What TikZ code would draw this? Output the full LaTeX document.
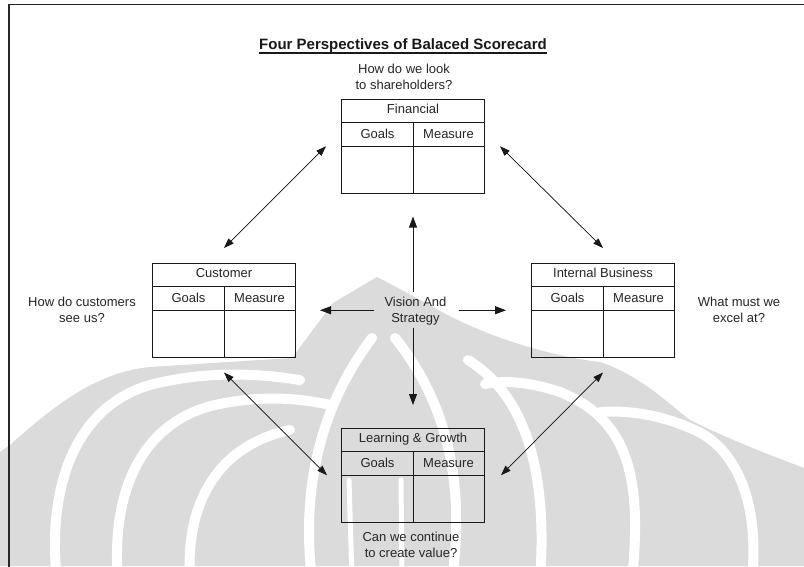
\documentclass[tikz,border=0pt]{standalone}
\usepackage{fontspec}
\setmainfont{Liberation Sans}
\usetikzlibrary{arrows.meta,calc}

\tikzset{
  pbox/.style={draw=black!90, line width=1pt, minimum width=143pt, minimum height=93.5pt, inner sep=0pt},
  rule/.style={draw=black!90, line width=1pt},
  ptext/.style={font=\fontsize{13}{16}\selectfont, inner sep=0pt, text=black!85, anchor=base},
  note/.style={font=\fontsize{13}{16}\selectfont, align=center, inner sep=0pt, text=black!85},
  heading/.style={font=\fontsize{15}{18}\selectfont\bfseries, inner sep=0pt, text=black!90},
  arr/.style={-{Triangle[length=11pt,width=8pt]}, line width=0.8pt, draw=black!90, fill=black!90},
  darr/.style={{Triangle[length=10pt,width=7pt]}-{Triangle[length=10pt,width=7pt]}, line width=0.7pt, draw=black!90, fill=black!90},
  wm/.style={fill=black!14},
  wmgap/.style={draw=white, line width=10pt, line cap=round},
}

% one perspective table: name, top-left corner, heading
\newcommand\persp[3]{%
  \node[pbox, anchor=north west] (#1) at (#2) {};
  \draw[rule] ($(#1.north west)+(0,23.5)$) -- ($(#1.north east)+(0,23.5)$);
  \draw[rule] ($(#1.north west)+(0,47)$) -- ($(#1.north east)+(0,47)$);
  \draw[rule] ($(#1.north)+(0,23.5)$) -- (#1.south);
  \node[ptext] (#1-head) at ($(#1.north)+(0,14.2)$) {#3};
  \node[ptext] (#1-goals) at ($(#1.north)+(-35.5,39.5)$) {Goals};
  \node[ptext] (#1-measure) at ($(#1.north)+(35.5,39.5)$) {Measure};
}

\begin{document}
\begin{tikzpicture}[x=1pt,y=-1pt]
\clip (0,0) rectangle (804,566);
\fill[white] (0,0) rectangle (804,566);

% faint emblem in the background
\fill[wm] (0,452) -- (10,445) .. controls (60,400) and (100,372) .. (150,367)
  -- (292,358) -- (333,303) -- (377,277) -- (430,305)
  .. controls (470,330) and (540,355) .. (600,362)
  .. controls (640,375) and (670,405) .. (690,420)
  .. controls (730,440) and (770,455) .. (804,468) -- (804,566) -- (0,566) -- cycle;
% left arcs
\draw[wmgap] (57,580) .. controls (46,480) and (80,405) .. (150,385) .. controls (200,372) and (250,372) .. (300,380);
\draw[wmgap] (118,580) .. controls (110,480) and (150,420) .. (215,405) .. controls (260,395) and (300,398) .. (330,405);
\draw[wmgap] (190,580) .. controls (185,500) and (220,445) .. (290,430);
% central flame
\draw[wmgap] (312,580) .. controls (300,480) and (325,400) .. (372,338);
\draw[wmgap] (452,580) .. controls (466,480) and (445,400) .. (395,338);
\draw[wmgap, line width=5pt] (352,580) -- (349,480);
\draw[wmgap, line width=5pt] (402,580) -- (401,480);
% right arcs
\draw[wmgap] (540,580) .. controls (548,470) and (525,395) .. (468,360);
\draw[wmgap] (632,580) .. controls (642,480) and (630,420) .. (560,392) .. controls (530,382) and (505,380) .. (485,384);
\draw[wmgap] (752,580) .. controls (760,500) and (735,445) .. (690,428) .. controls (660,415) and (630,410) .. (600,412);

% page frame
\draw[line width=1.4pt, black!85] (9,600) -- (9,4.5) -- (820,4.5);

% title
\node[heading, anchor=base] (title) at (403,49) {Four Perspectives of Balaced Scorecard};
\draw[line width=1.1pt, black!90] ([yshift=-4pt]title.base west) -- ([yshift=-4pt]title.base east);

% the four perspectives
\persp{fin}{341,99}{Financial}
\persp{cust}{152,263}{Customer}
\persp{ib}{531,263}{Internal Business}
\persp{lg}{341,428}{Learning \& Growth}

% guiding questions
\node[note] (q-fin) at (404,77) {How do we look\\to shareholders?};
\node[note] (q-cust) at (82,309.8) {How do customers\\see us?};
\node[note] (q-ib) at (739,309.8) {What must we\\excel at?};
\node[note] (q-lg) at (411,544.8) {Can we continue\\to create value?};

% centre
\node[note] (vs) at (415.5,311) {Vision And\\Strategy};

\draw[arr] ([yshift=5pt]vs.north -| fin.south) -- ([yshift=-23pt]fin.south);
\draw[arr] ([yshift=-2.5pt]vs.south -| lg.north) -- ([yshift=23pt]lg.north);
\draw[arr] ([xshift=-10pt]vs.west |- cust.east) -- ([xshift=24pt]cust.east);
\draw[arr] ([xshift=12pt]vs.east |- ib.west) -- ([xshift=-25pt]ib.west);

% links between perspectives
\draw[darr] ([xshift=-15pt]fin.west) -- ([yshift=15pt]cust.north);
\draw[darr] ([xshift=15pt]fin.east) -- ([yshift=15pt]ib.north);
\draw[darr] ([yshift=-15pt]cust.south) -- ([xshift=-14pt]lg.west);
\draw[darr] ([yshift=-15pt]ib.south) -- ([xshift=16pt]lg.east);
\end{tikzpicture}
\end{document}
